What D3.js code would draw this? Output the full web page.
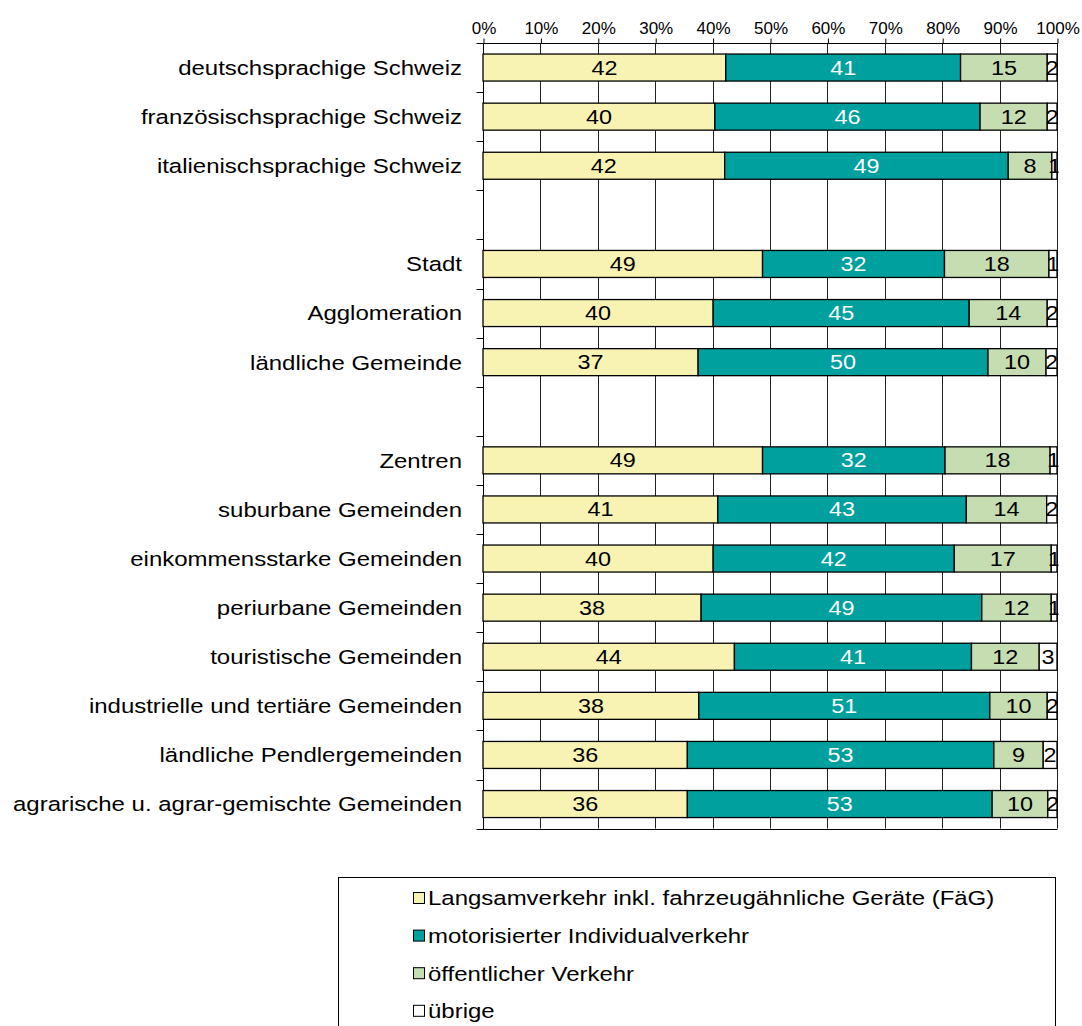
<!DOCTYPE html>
<html>
<head>
<meta charset="utf-8">
<script src="https://cdn.jsdelivr.net/npm/d3@7/dist/d3.min.js"></script>
<style>
body { margin: 0; background: #fff; }
svg { font-family: Arial, "Liberation Sans", sans-serif; }
</style>
</head>
<body>
<svg class="canvas"></svg>
<script>
// categories, blank entries are empty spacer rows
var categories = [
	"deutschsprachige Schweiz",
	"französischsprachige Schweiz",
	"italienischsprachige Schweiz",
	"",
	"Stadt",
	"Agglomeration",
	"ländliche Gemeinde",
	" ",
	"Zentren",
	"suburbane Gemeinden",
	"einkommensstarke Gemeinden",
	"periurbane Gemeinden",
	"touristische Gemeinden",
	"industrielle und tertiäre Gemeinden",
	"ländliche Pendlergemeinden",
	"agrarische u. agrar-gemischte Gemeinden"
];

var seriesNames = [
	"Langsamverkehr inkl. fahrzeugähnliche Geräte (FäG)",
	"motorisierter Individualverkehr",
	"öffentlicher Verkehr",
	"übrige"
];

var langsam    = [42.3, 40.4, 42.1, null, 48.7, 40.1, 37.4, null, 48.7, 40.9, 40.1, 38.0, 43.8, 37.6, 35.6, 35.6];
var miv        = [40.9, 46.2, 49.4, null, 31.7, 44.6, 50.4, null, 31.8, 43.3, 42.0, 48.9, 41.3, 50.7, 53.4, 53.1];
var oev        = [15.1, 11.7,  7.6, null, 18.2, 13.6, 10.1, null, 18.3, 14.0, 16.9, 12.1, 11.8, 10.0,  8.6,  9.7];
var uebrige    = [ 1.7,  1.7,  0.9, null,  1.4,  1.7,  1.9, null,  1.2,  1.8,  1.0,  1.0,  3.1,  1.7,  2.4,  1.6];

var xTicks = [0, 0.1, 0.2, 0.3, 0.4, 0.5, 0.6, 0.7, 0.8, 0.9, 1];

var colors = ["#f8f3b3", "#00a09f", "#c5ddb1", "#ffffff"];
var textColors = ["#000", "#fff", "#000", "#000"];

var width = 1082,
	height = 1026;

var PLOT_L = 483, PLOT_R = 1057, PLOT_T = 43, PLOT_B = 828.6;
var SX = 1.17; // horizontal stretch of text in the original

var canvas = d3.select(".canvas")
	.attr("width", width)
	.attr("height", height);

var rows = categories.map(function(c, i) {
	return { cat: c, s0: langsam[i], s1: miv[i], s2: oev[i], s3: uebrige[i] };
});
var dataRows = rows.filter(function(r) { return r.s0 !== null; });

var keys = ["s0", "s1", "s2", "s3"];
var stack = d3.stack().keys(keys).offset(d3.stackOffsetExpand);
var layers = stack(dataRows);

var x = d3.scaleLinear().domain([0, 1]).range([PLOT_L, PLOT_R]);
var y = d3.scaleBand().domain(categories).range([PLOT_T, PLOT_B]).paddingInner(0.45).paddingOuter(0.225);
var yEdge = d3.scaleLinear().domain([0, categories.length]).range([PLOT_T, PLOT_B]);

function stretched(px, py, s) {
	return "translate(" + px + "," + py + ") scale(" + (s || SX) + ",1)";
}

// gridlines
canvas.append("g").selectAll("line").data(xTicks)
	.enter().append("line")
	.attr("x1", function(d) { return Math.round(x(d)) + 0.5; })
	.attr("x2", function(d) { return Math.round(x(d)) + 0.5; })
	.attr("y1", PLOT_T)
	.attr("y2", PLOT_B)
	.attr("stroke", "#222")
	.attr("stroke-width", 1);

// bottom line
canvas.append("line")
	.attr("x1", PLOT_L).attr("x2", PLOT_R + 0.5)
	.attr("y1", Math.round(PLOT_B) + 0.5).attr("y2", Math.round(PLOT_B) + 0.5)
	.attr("stroke", "#000");

// top axis
var xAxis = d3.axisTop(x).tickValues(xTicks).tickSize(5).tickPadding(5)
	.tickFormat(d3.format(".0%"));
var gx = canvas.append("g")
	.attr("transform", "translate(0.5," + (PLOT_T + 0.5) + ")")
	.call(xAxis);
gx.select(".domain").attr("d", "M" + (PLOT_L - 0.5) + ",0H" + (PLOT_R) );
gx.selectAll("text").attr("font-size", 17).attr("fill", "#000")
	.attr("font-family", "Arial, 'Liberation Sans', sans-serif");

// left axis with ticks at band edges
var gy = canvas.append("g").attr("transform", "translate(" + (PLOT_L + 0.5) + ",0)");
gy.append("line").attr("y1", PLOT_T).attr("y2", PLOT_B + 0.5).attr("stroke", "#000");
gy.selectAll(".edge").data(d3.range(categories.length + 1))
	.enter().append("line")
	.attr("class", "edge")
	.attr("x1", -7).attr("x2", 0)
	.attr("y1", function(d) { return Math.round(yEdge(d)) + 0.5; })
	.attr("y2", function(d) { return Math.round(yEdge(d)) + 0.5; })
	.attr("stroke", "#000");

// category labels
canvas.append("g").selectAll("text").data(dataRows)
	.enter().append("text")
	.attr("transform", function(d) { return stretched(462, y(d.cat) + y.bandwidth() / 2); })
	.attr("dy", ".36em")
	.attr("text-anchor", "end")
	.attr("font-size", 20.5)
	.text(function(d) { return d.cat; });

// clip for value labels
canvas.append("clipPath").attr("id", "plotclip")
	.append("rect").attr("x", PLOT_L).attr("y", PLOT_T).attr("width", PLOT_R - PLOT_L + 1.5).attr("height", PLOT_B - PLOT_T);

// bars
var layerG = canvas.append("g").selectAll("g").data(layers)
	.enter().append("g");

layerG.selectAll("rect").data(function(d) { return d.map(function(p) { p.key = d.key; return p; }); })
	.enter().append("rect")
	.attr("x", function(d) { return x(d[0]); })
	.attr("width", function(d) { return x(d[1]) - x(d[0]); })
	.attr("y", function(d) { return y(d.data.cat); })
	.attr("height", y.bandwidth())
	.attr("fill", function(d) { return colors[keys.indexOf(d.key)]; })
	.attr("stroke", "#000")
	.attr("stroke-width", 1.3);

// value labels
var labelG = canvas.append("g").attr("clip-path", "url(#plotclip)");
layers.forEach(function(layer, li) {
	labelG.selectAll(".lab" + li).data(layer)
		.enter().append("text")
		.attr("class", "lab" + li)
		.attr("transform", function(d) {
			return stretched((x(d[0]) + x(d[1])) / 2, y(d.data.cat) + y.bandwidth() / 2, 1.2); })
		.attr("dy", ".36em")
		.attr("text-anchor", "middle")
		.attr("font-size", 19.5)
		.attr("fill", textColors[li])
		.text(function(d) { return Math.round(d.data[layer.key]); });
});

// legend
var legend = canvas.append("g");
legend.append("rect")
	.attr("x", 338.5).attr("y", 877.5)
	.attr("width", 717).attr("height", 160)
	.attr("fill", "#fff").attr("stroke", "#000");

var leg = legend.selectAll("g").data(seriesNames)
	.enter().append("g")
	.attr("transform", function(d, i) { return "translate(0," + (898 + i * 37.6) + ")"; });

leg.append("rect")
	.attr("x", 413.5).attr("y", -5.5)
	.attr("width", 11).attr("height", 11)
	.attr("fill", function(d, i) { return colors[i]; })
	.attr("stroke", "#000");

leg.append("text")
	.attr("transform", stretched(428, 0))
	.attr("dy", ".36em")
	.attr("font-size", 20.5)
	.text(function(d) { return d; });
</script>
</body>
</html>
